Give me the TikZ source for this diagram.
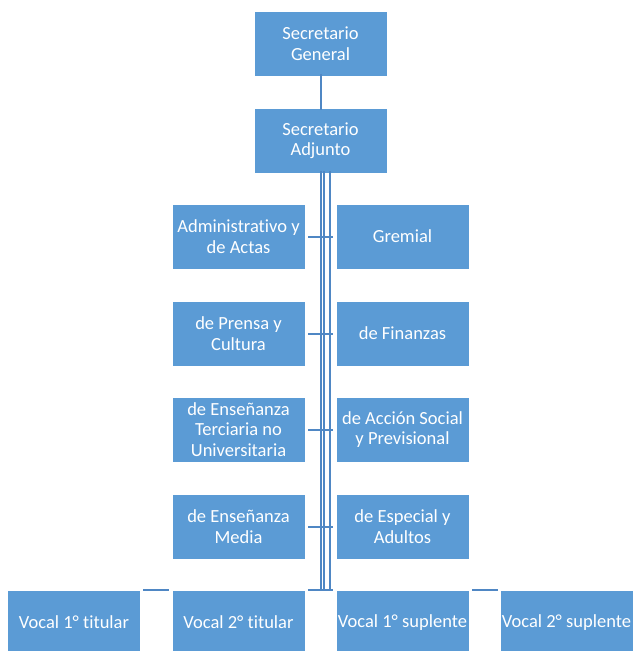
\documentclass[tikz,border=0pt]{standalone}
\usepackage{fontspec}
\setmainfont{Carlito}[Ligatures=NoCommon]
\definecolor{boxblue}{HTML}{5B9BD5}
\definecolor{lineblue}{HTML}{4F87C4}
\begin{document}
\begin{tikzpicture}[x=1pt,y=-1pt,
  orgbox/.style={rectangle, minimum width=133pt, minimum height=65pt, inner sep=0pt,
    fill=boxblue, draw=white, line width=0.8pt, text=white, align=center,
    font=\fontsize{18.5}{20.5}\selectfont},
  conn/.style={draw=lineblue, line width=2pt}]
\path[fill=white, use as bounding box] (0,0) rectangle (633,651);
\clip (0,0) rectangle (633,651);
\node[orgbox] (sg) at (320.5,43.5) {Secretario\\General};
\node[orgbox] (sa) at (320.5,140.5) {Secretario\\Adjunto};
\node[orgbox] (l1) at (238.5,236.5) {Administrativo y\\de Actas};
\node[orgbox] (r1) at (402.5,236.5) {Gremial};
\node[orgbox] (l2) at (238.5,333.5) {de Prensa y\\Cultura};
\node[orgbox] (r2) at (402.5,333.5) {de Finanzas};
\node[orgbox] (l3) at (238.5,429.5) {de Enseñanza\\Terciaria no\\Universitaria};
\node[orgbox] (r3) at (402.5,429.5) {de Acción Social\\y Previsional};
\node[orgbox] (l4) at (238.5,526.5) {de Enseñanza\\Media};
\node[orgbox] (r4) at (402.5,526.5) {de Especial y\\Adultos};
\node[orgbox] (v1) at (74,622.5) {Vocal 1° titular};
\node[orgbox] (v2) at (238.5,622.5) {Vocal 2° titular};
\node[orgbox] (v3) at (402.5,622.5) {Vocal 1° suplente};
\node[orgbox] (v4) at (566.5,622.5) {Vocal 2° suplente};
% top connector
\draw[conn] ([yshift=2.5pt]sg.south) -- ([yshift=-2.5pt]sa.north);
% trunk
\coordinate (tb) at (320.5,590);
\draw[conn] ([yshift=2pt]sa.south) -- (tb);
\draw[conn] ([xshift=3.5pt,yshift=2pt]sa.south) -- ([xshift=3.5pt]tb);
\draw[conn] ([xshift=9pt,yshift=2pt]sa.south) -- ([xshift=9pt]tb);
% row connectors
\foreach \i in {1,2,3,4}{
  \draw[conn] ([xshift=3pt]l\i.east) -- ([xshift=-3pt]r\i.west);
}
% bottom connectors
\draw[conn] ([xshift=2.5pt]v2.north east) -- ([xshift=-3pt]v3.north west);
\draw[conn] ([xshift=2.5pt]v1.north east) -- ([xshift=-3pt]v2.north west);
\draw[conn] ([xshift=3pt]v3.north east) -- ([xshift=-2pt]v4.north west);
\end{tikzpicture}
\end{document}
